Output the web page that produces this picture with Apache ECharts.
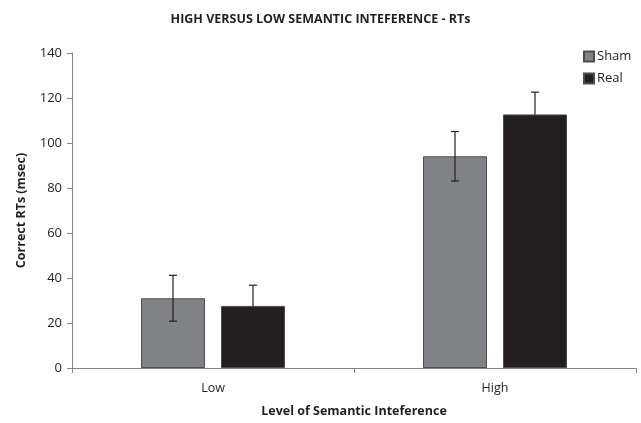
<!DOCTYPE html>
<html><head><meta charset="utf-8">
<script src="https://cdn.jsdelivr.net/npm/echarts@6/dist/echarts.min.js"></script>
<style>html,body{margin:0;padding:0;background:#fff}#c{width:641px;height:423px}</style>
</head><body><div id="c"></div>
<script>
const categories = ['Low', 'High'];
const seriesNames = ['Sham', 'Real'];
const shamValues = [31.0, 94.1];
const realValues = [27.6, 112.7];
const shamErr = [10.2, 11.0];
const realErr = [9.2, 9.9];
const yTicks = [0, 20, 40, 60, 80, 100, 120, 140];

const FONT = '"Open Sans", "Liberation Sans", sans-serif';
const BAR_W = 64, GAP = 16;
const chart = echarts.init(document.getElementById('c'), null, {renderer: 'canvas'});

function errSeries(vals, errs, sign, name) {
  return {
    type: 'custom', name: name + ' err', z: 5, silent: true,
    data: vals.map((v, i) => [i, v, errs[i]]),
    renderItem: function (params, api) {
      const i = api.value(0), v = api.value(1), e = api.value(2);
      const c = api.coord([i, v]);
      const off = sign * (BAR_W + GAP) / 2;
      const x = c[0] + off;
      const top = api.coord([i, v + e])[1];
      const bot = api.coord([i, v - e])[1];
      const st = {stroke: '#231f20', lineWidth: 1.2};
      return {type: 'group', children: [
        {type: 'line', shape: {x1: x, y1: top, x2: x, y2: bot}, style: st},
        {type: 'line', shape: {x1: x - 4, y1: top, x2: x + 4, y2: top}, style: st},
        {type: 'line', shape: {x1: x - 4, y1: bot, x2: x + 4, y2: bot}, style: st}
      ]};
    }
  };
}

chart.setOption({
  animation: false,
  backgroundColor: '#fff',
  title: {
    text: 'HIGH VERSUS LOW SEMANTIC INTEFERENCE - RTs',
    left: 'center', top: 8,
    textStyle: {fontFamily: FONT, fontWeight: 'bold', fontSize: 12.5, color: '#231f20'}
  },
  legend: {
    data: seriesNames, orient: 'vertical', left: 578, top: 45,
    itemWidth: 10, itemHeight: 10, itemGap: 9,
    icon: 'rect',
    textStyle: {fontFamily: FONT, fontSize: 13, color: '#231f20', padding: [0, 0, 0, -2]}
  },
  grid: {left: 72, right: 5, top: 53, bottom: 54},
  xAxis: {
    type: 'category', data: categories,
    name: 'Level of Semantic Inteference', nameLocation: 'middle', nameGap: 37,
    nameTextStyle: {fontFamily: FONT, fontWeight: 'bold', fontSize: 12.5, color: '#231f20'},
    axisLine: {lineStyle: {color: '#868686', width: 1}},
    axisTick: {show: true, length: 5, lineStyle: {color: '#868686'}},
    axisLabel: {fontFamily: FONT, fontSize: 12.5, color: '#231f20', margin: 14}
  },
  yAxis: {
    type: 'value', min: 0, max: 140, interval: 20,
    name: 'Correct RTs (msec)', nameLocation: 'middle', nameGap: 44,
    nameTextStyle: {fontFamily: FONT, fontWeight: 'bold', fontSize: 12.5, color: '#231f20'},
    axisLine: {show: true, lineStyle: {color: '#868686', width: 1}},
    axisTick: {show: true, length: 5, lineStyle: {color: '#868686'}},
    splitLine: {show: false},
    axisLabel: {fontFamily: FONT, fontSize: 13, color: '#231f20', margin: 10,
      formatter: v => yTicks.includes(v) ? String(v) : ''}
  },
  series: [
    {name: 'Sham', type: 'bar', data: shamValues, barWidth: BAR_W, barGap: (GAP / BAR_W * 100) + '%',
      itemStyle: {color: '#808285', borderColor: '#4d4d4f', borderWidth: 1}},
    {name: 'Real', type: 'bar', data: realValues, barWidth: BAR_W,
      itemStyle: {color: '#231f20', borderColor: '#4d4d4f', borderWidth: 1}},
    errSeries(shamValues, shamErr, -1, 'Sham'),
    Object.assign(errSeries(realValues, realErr, 1, 'Real'), {z: 1})
  ]
});
</script></body></html>
